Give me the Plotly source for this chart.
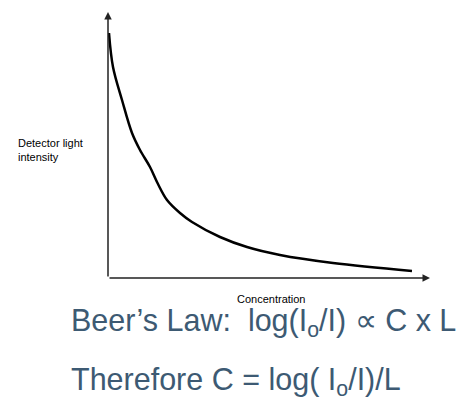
import plotly.graph_objects as go

# Beer's law sketch: detector light intensity falls off with concentration
concentration = [1, 5, 14, 24, 32, 42, 50, 59, 72, 84, 112, 139, 172, 225, 304]
intensity = [245, 211, 178, 145, 128, 111, 94, 78, 65, 56, 41, 31, 23, 15, 7]

X_MAX = 322
Y_MAX = 266

ylabel = "Detector light<br>intensity"
xlabel = "Concentration"
line1 = "Beer\u2019s Law:  log(I<sub>o</sub>/I) \u221d C x L"
line2 = "Therefore C = log( I<sub>o</sub>/I)/L"

TEXT_BLUE = "#3d5a73"
FONT = "Liberation Sans, Arial, sans-serif"

fig = go.Figure()
fig.add_trace(go.Scatter(
    x=concentration, y=intensity, mode="lines",
    line=dict(color="black", width=2.5, shape="spline", smoothing=1.0),
    hoverinfo="skip", showlegend=False,
))

# axes drawn as arrows
fig.add_annotation(x=X_MAX, y=0, ax=0, ay=0, xref="x", yref="y", axref="x", ayref="y",
                   showarrow=True, arrowhead=2, arrowsize=1, arrowwidth=1.5,
                   arrowcolor="#222", text="")
fig.add_annotation(x=0, y=Y_MAX, ax=0, ay=0, xref="x", yref="y", axref="x", ayref="y",
                   showarrow=True, arrowhead=2, arrowsize=1, arrowwidth=1.5,
                   arrowcolor="#222", text="")

fig.add_annotation(x=-0.2857, y=0.481, xref="paper", yref="paper", text=ylabel,
                   showarrow=False, xanchor="left", yanchor="middle", align="left",
                   font=dict(family=FONT, size=11, color="black"))
fig.add_annotation(x=0.509, y=-0.079, xref="paper", yref="paper", text=xlabel,
                   showarrow=False, xanchor="center", yanchor="middle",
                   font=dict(family=FONT, size=11, color="black"))
fig.add_annotation(x=-0.121, y=-0.168, xref="paper", yref="paper", text=line1,
                   showarrow=False, xanchor="left", yanchor="middle", align="left",
                   font=dict(family=FONT, size=30.5, color=TEXT_BLUE))
fig.add_annotation(x=-0.121, y=-0.388, xref="paper", yref="paper", text=line2,
                   showarrow=False, xanchor="left", yanchor="middle", align="left",
                   font=dict(family=FONT, size=30.5, color=TEXT_BLUE))

fig.update_xaxes(range=[0, X_MAX], visible=False)
fig.update_yaxes(range=[0, Y_MAX], visible=False)
# page body adds an 8px margin, so the figure is a bit smaller than the window
fig.update_layout(
    width=466, height=389,
    margin=dict(l=100, r=44, t=4, b=119, autoexpand=False),
    plot_bgcolor="white", paper_bgcolor="white",
)

fig.write_html("out.html")
